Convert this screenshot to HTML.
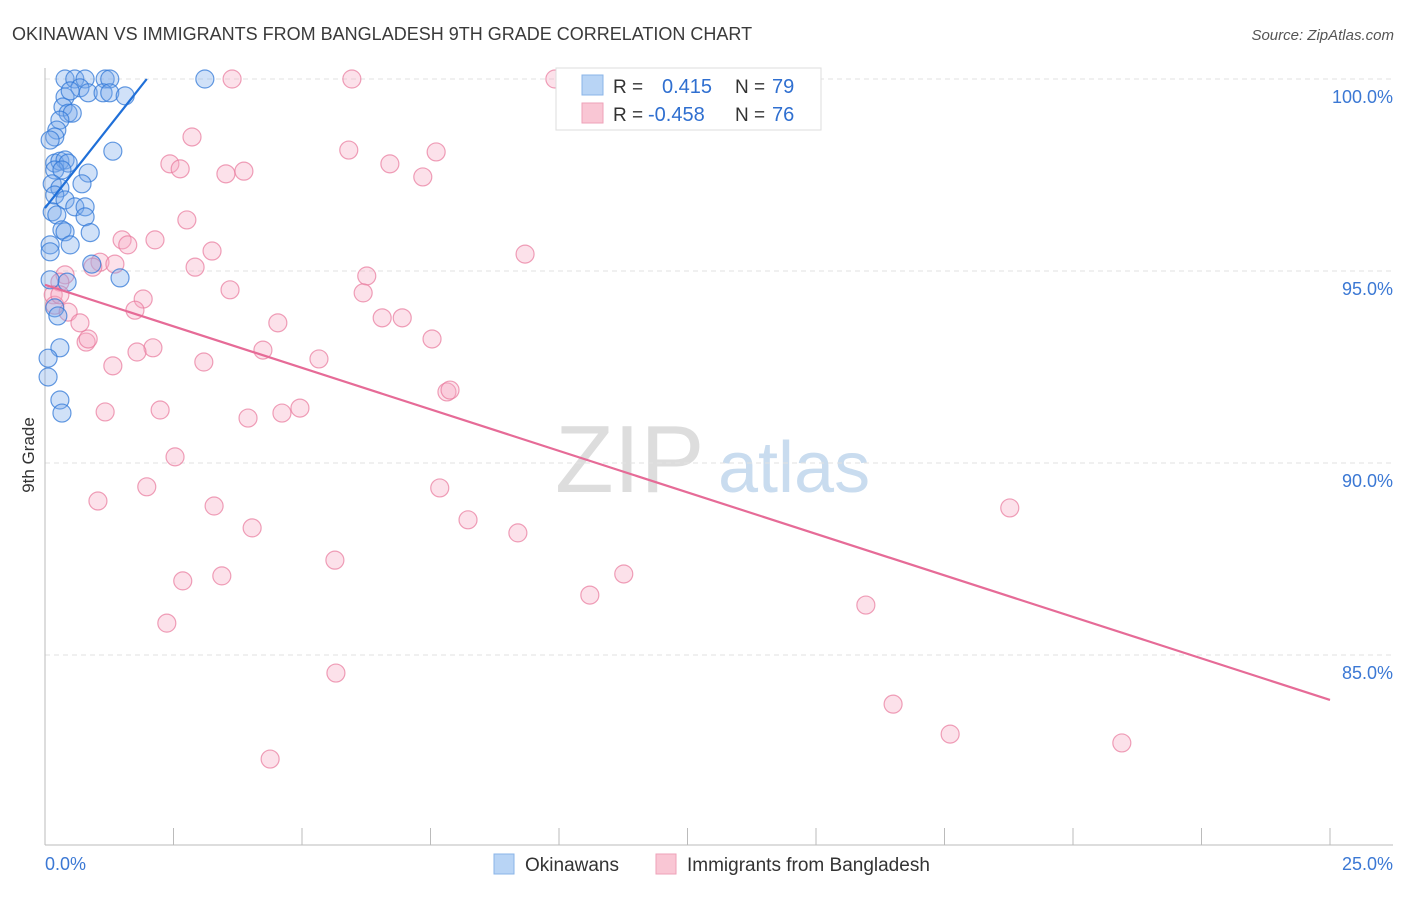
<!DOCTYPE html>
<html><head><meta charset="utf-8"><style>
body{margin:0;background:#fff;font-family:"Liberation Sans",sans-serif;}
svg text{font-family:"Liberation Sans",sans-serif;}
</style></head><body>
<svg id="chart" width="1406" height="892" xmlns="http://www.w3.org/2000/svg">
<text x="12" y="40" font-size="18" fill="#3a3a3a">OKINAWAN VS IMMIGRANTS FROM BANGLADESH 9TH GRADE CORRELATION CHART</text>
<text x="1394" y="40" font-size="15" fill="#555" font-style="italic" text-anchor="end">Source: ZipAtlas.com</text>
<text x="34" y="455" font-size="17" fill="#333" transform="rotate(-90 34 455)" text-anchor="middle">9th Grade</text>
<g><text x="555" y="492" font-size="96" fill="#ddd" font-family="Liberation Serif">ZIP</text><text x="718" y="492" font-size="72" fill="#c9dcef">atlas</text></g>
<g id="grid"></g><g id="axes"></g><g id="pink"></g><g id="blue"></g><g id="lines"></g>
<g>
<rect x="556" y="68" width="265" height="62" fill="#fff" stroke="#ddd"/>
<rect x="582" y="75" width="21" height="20" fill="#b8d4f5" stroke="#8ab4e8"/>
<rect x="582" y="103" width="21" height="20" fill="#f9c6d4" stroke="#eea2b8"/>
<text x="613" y="93" font-size="19" fill="#333">R =</text><text x="662" y="93" font-size="20" fill="#2f6fd0">0.415</text>
<text x="735" y="93" font-size="19" fill="#333">N =</text><text x="772" y="93" font-size="20" fill="#2f6fd0">79</text>
<text x="613" y="121" font-size="19" fill="#333">R =</text><text x="648" y="121" font-size="20" fill="#2f6fd0">-0.458</text>
<text x="735" y="121" font-size="19" fill="#333">N =</text><text x="772" y="121" font-size="20" fill="#2f6fd0">76</text>
</g>
<g>
<rect x="494" y="854" width="20" height="20" fill="#b8d4f5" stroke="#8ab4e8"/>
<text x="525" y="871" font-size="19" fill="#333">Okinawans</text>
<rect x="656" y="854" width="20" height="20" fill="#f9c6d4" stroke="#eea2b8"/>
<text x="687" y="871" font-size="19" fill="#333">Immigrants from Bangladesh</text>
</g>
</svg>
<script>
const yTicks=[100,95,90,85];
const yTickLabels=["100.0%","95.0%","90.0%","85.0%"];
const xTickVals=[0,2.5,5,7.5,10,12.5,15,17.5,20,22.5,25];
const xEndLabels=["0.0%","25.0%"];
const blueX=[0.39,0.58,0.78,1.17,1.26,3.11,0.68,0.84,1.13,1.26,1.56,0.39,0.35,0.45,0.53,0.29,0.23,0.19,1.32,0.19,0.29,0.39,0.45,0.19,0.33,0.84,0.14,0.29,0.72,0.19,0.39,0.58,0.78,0.14,0.23,0.78,0.33,0.39,0.88,0.1,0.49,0.1,0.91,1.46,0.1,0.43,0.19,0.25,0.29,0.06,0.06,0.29,0.33,0.49,0.1];
const blueY=[100,100,100,100,100,100,99.77,99.64,99.64,99.64,99.56,99.53,99.27,99.11,99.11,98.93,98.67,98.49,98.12,97.81,97.86,97.89,97.81,97.63,97.63,97.55,97.27,97.16,97.27,96.98,96.85,96.67,96.67,96.54,96.46,96.41,96.07,96.02,96.0,95.68,95.68,95.5,95.18,94.82,94.77,94.71,94.04,93.83,93.0,92.73,92.24,91.64,91.3,99.69,98.41];
const pinkX=[3.64,5.97,9.92,2.86,2.43,2.63,3.52,3.87,5.91,6.71,7.35,7.61,2.76,1.50,2.14,1.61,3.25,9.34,1.07,1.36,2.92,0.93,0.39,6.26,0.29,3.60,0.16,1.91,6.19,0.19,1.75,0.45,6.56,6.95,0.68,4.53,0.80,0.84,7.53,2.10,1.79,4.24,5.33,3.09,1.32,7.82,7.88,4.96,2.24,1.17,3.95,4.61,2.53,7.68,1.98,1.03,3.29,8.23,4.03,9.20,18.77,5.64,11.26,3.44,2.68,10.60,15.97,2.37,5.66,16.50,17.61,4.38,20.95,0.29];
const pinkY=[100,100,100,98.49,97.79,97.66,97.53,97.60,98.15,97.79,97.45,98.10,96.33,95.81,95.81,95.68,95.52,95.44,95.23,95.18,95.10,95.10,94.90,94.87,94.71,94.51,94.38,94.27,94.43,94.11,93.98,93.93,93.78,93.78,93.65,93.65,93.15,93.23,93.23,93.0,92.89,92.94,92.71,92.63,92.53,91.85,91.90,91.43,91.38,91.33,91.17,91.30,90.16,89.35,89.38,89.01,88.88,88.52,88.31,88.18,88.83,87.47,87.11,87.06,86.93,86.56,86.30,85.83,84.53,83.72,82.94,82.29,82.71,94.38];
const blueTrend=[[0,96.64],[1.98,100]];
const pinkTrend=[[0,94.64],[25,83.83]];
const NS="http://www.w3.org/2000/svg";
const X=v=>45+v*51.4, Y=v=>79+(100-v)*38.4;
function mk(tag,attrs,parent){const e=document.createElementNS(NS,tag);for(const k in attrs)e.setAttribute(k,attrs[k]);document.getElementById(parent).appendChild(e);return e;}
yTicks.forEach((t,i)=>{
 const l=mk('line',{x1:45,x2:1393,y1:Y(t),y2:Y(t),stroke:'#e2e2e2','stroke-dasharray':'5,4'},'grid');
 
 
 const tx=mk('text',{x:1393,y:Y(t)+24,'font-size':18,fill:'#3b78d4','text-anchor':'end'},'grid');
 tx.textContent=yTickLabels[i];
 
 
});
const ax=mk('line',{x1:45,x2:45,y1:68,y2:845,stroke:'#bbb'},'axes');


const bx=mk('line',{x1:45,x2:1393,y1:845,y2:845,stroke:'#bbb'},'axes');


xTickVals.forEach(v=>{
 const t=mk('line',{x1:X(v),x2:X(v),y1:828,y2:845,stroke:'#bbb'},'axes');
 
 
});
[[0,'start'],[25,'end']].forEach((p,i)=>{
 const t=mk('text',{x:i?1393:45,y:870,'font-size':18,fill:'#3b78d4','text-anchor':p[1]},'axes');
 t.textContent=xEndLabels[i];
 
 
});
pinkX.forEach((x,i)=>{
 const c=mk('circle',{cx:X(x),cy:Y(pinkY[i]),r:9,fill:'rgba(246,170,194,0.35)',stroke:'rgba(232,120,155,0.7)','stroke-width':1.2},'pink');
 
 
});
blueX.forEach((x,i)=>{
 const c=mk('circle',{cx:X(x),cy:Y(blueY[i]),r:9,fill:'rgba(120,170,235,0.35)',stroke:'rgba(50,120,215,0.75)','stroke-width':1.2},'blue');
 
 
});
const bl=mk('line',{x1:X(blueTrend[0][0]),y1:Y(blueTrend[0][1]),x2:X(blueTrend[1][0]),y2:Y(blueTrend[1][1]),stroke:'#1f6fd8','stroke-width':2.2},'lines');


const pl=mk('line',{x1:X(pinkTrend[0][0]),y1:Y(pinkTrend[0][1]),x2:X(pinkTrend[1][0]),y2:Y(pinkTrend[1][1]),stroke:'#e66b97','stroke-width':2.2},'lines');


</script>
</body></html>
